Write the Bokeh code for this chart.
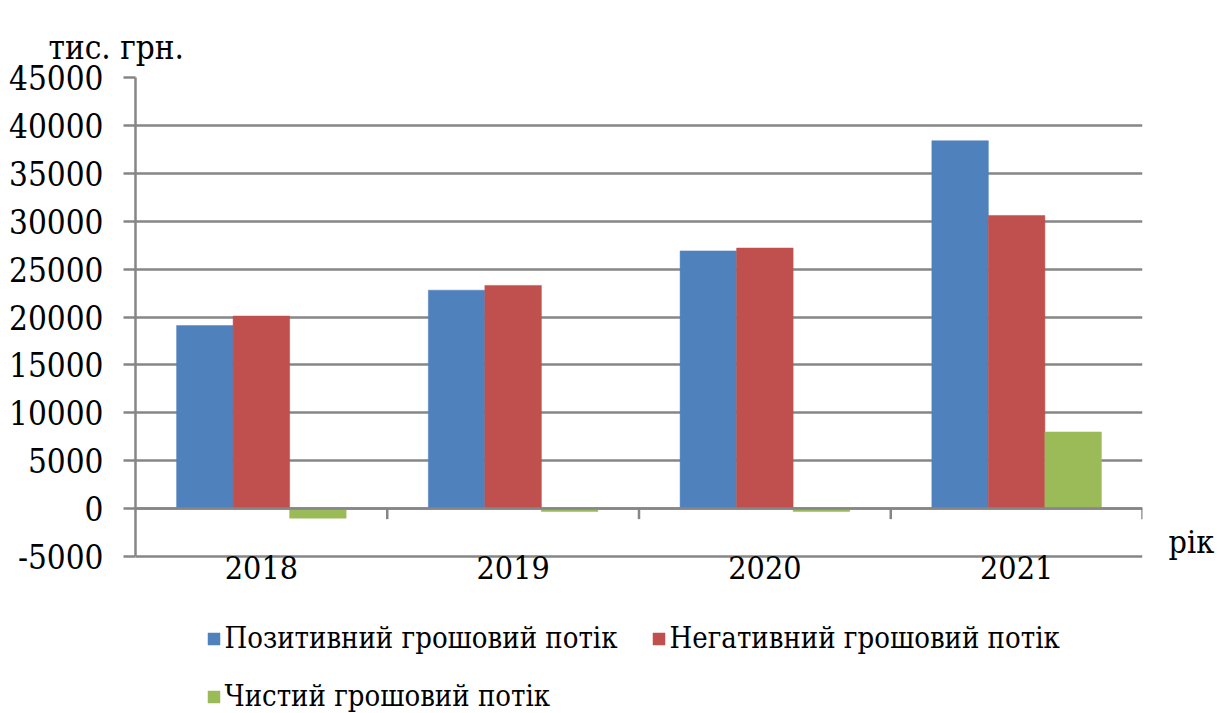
import numpy as np
from bokeh.plotting import figure
from bokeh.models import Range1d, FixedTicker, Span, Legend, LegendItem, LinearAxis, Title
from bokeh.core.properties import value
from bokeh.embed import file_html
from bokeh.resources import INLINE

# ---- data ----
years = ["2018", "2019", "2020", "2021"]
positive = [19100, 22800, 26900, 38400]
negative = [20100, 23300, 27200, 30600]
net = [-1000, -300, -300, 8000]
series_names = ["Позитивний грошовий потік", "Негативний грошовий потік", "Чистий грошовий потік"]
y_ticks = list(range(-5000, 45001, 5000))
y_unit = "тис. грн."
x_unit = "рік"

colors = ["#4F81BD", "#C0504D", "#9BBB59"]
GRID = "#868686"
FONT = "DejaVu Serif Condensed, DejaVu Serif"

n = len(years)
centers = np.arange(n) + 0.5
bw = 0.2245
offsets = [-bw, 0.0, bw]

# frame: value axis occupies 479 px; frame extends 157 px lower to host labels + legend
AX_H, EXTRA = 479, 157
span = y_ticks[-1] - y_ticks[0]
y_start = y_ticks[0] - EXTRA * span / AX_H

p = figure(frame_width=1007, frame_height=AX_H + EXTRA,
           x_range=Range1d(0, n), y_range=Range1d(y_start, y_ticks[-1]),
           output_backend="svg", toolbar_location=None,
           min_border_left=135, min_border_top=77, min_border_right=78, min_border_bottom=0)
p.outline_line_color = None

p.title = Title(text=y_unit, align="left", offset=-87, standoff=22,
                text_font=FONT, text_font_size="33px", text_font_style="normal",
                text_color="black")

renderers = []
for vals, off, c in zip([positive, negative, net], offsets, colors):
    r = p.vbar(x=centers + off, top=vals, bottom=0, width=bw,
               fill_color=c, line_color=c, line_width=0.5)
    renderers.append(r)

p.xgrid.visible = False
p.ygrid.ticker = FixedTicker(ticks=y_ticks)
p.ygrid.grid_line_color = GRID
p.ygrid.grid_line_width = 2.5

ya = p.yaxis[0]
ya.ticker = FixedTicker(ticks=y_ticks)
ya.bounds = (y_ticks[0], y_ticks[-1])
ya.major_label_overrides = {t: str(t) for t in y_ticks}
ya.axis_line_color = GRID
ya.axis_line_width = 2.5
ya.major_tick_line_color = GRID
ya.major_tick_line_width = 2.5
ya.major_tick_out = 12
ya.major_tick_in = 0
ya.minor_tick_line_color = None
ya.major_label_standoff = 20
ya.major_label_text_font = FONT
ya.major_label_text_font_size = "33px"
ya.major_label_text_color = "black"

p.xaxis.visible = False

# category labels just under the value axis bottom
p.text(x=centers, y=[y_ticks[0]] * n, text=years, text_align="center", text_baseline="middle",
       y_offset=11, text_font=value(FONT), text_font_size="32px", text_color="black")

unit_y = -3450
ra = LinearAxis(ticker=FixedTicker(ticks=[unit_y]), major_label_overrides={unit_y: x_unit},
                axis_line_color=None, major_tick_line_color=None, minor_tick_line_color=None,
                major_tick_out=0, major_tick_in=0, major_label_standoff=26,
                major_label_text_font=FONT, major_label_text_font_size="32px",
                major_label_text_color="black")
p.add_layout(ra, "right")

p.add_layout(Span(location=0, dimension="width", line_color=GRID, line_width=2.5))
bounds = np.arange(1, n + 1)
p.segment(x0=bounds, y0=0, x1=bounds, y1=-1100, line_color=GRID, line_width=2.5)

legend = Legend(items=[LegendItem(label=nm, renderers=[r]) for nm, r in zip(series_names, renderers)],
                orientation="horizontal", ncols=2, location="bottom_center",
                label_text_font=FONT, label_text_font_size="29px", label_text_color="black",
                glyph_width=15, glyph_height=15, label_standoff=4, spacing=24,
                label_width=402, padding=0, margin=0, border_line_color=None,
                background_fill_alpha=0)
p.add_layout(legend)

open("out.html", "w").write(file_html(p, INLINE))
